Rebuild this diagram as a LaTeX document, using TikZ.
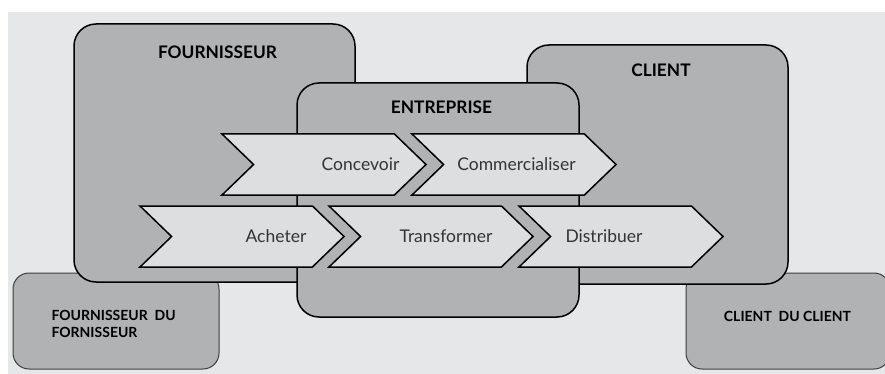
\documentclass[tikz,border=0pt]{standalone}
\usepackage{fontspec}
\setmainfont{Lato}
\usetikzlibrary{shapes.symbols}

\definecolor{bggray}{RGB}{230,231,232}
\definecolor{boxgray}{RGB}{177,178,180}
\definecolor{stagegray}{RGB}{221,222,224}
\definecolor{edgegray}{RGB}{60,60,60}

\tikzset{
  actor/.style={draw=black,fill=boxgray,line width=1.5pt,rounded corners=22pt},
  outer/.style={draw=edgegray,fill=boxgray,line width=1pt,rounded corners=16pt},
  stage/.style={shape=signal,signal from=west,signal to=east,
    signal pointer angle=88,draw=black,fill=stagegray,line width=1.5pt,
    minimum width=204pt,minimum height=61pt,inner sep=0pt,outer sep=0pt},
  title/.style={font=\bfseries\fontsize{17.3}{19}\selectfont},
  smalltitle/.style={font=\bfseries\fontsize{14}{17}\selectfont,align=left},
  stagetext/.style={font=\fontsize{17.5}{19}\selectfont,text=black!80}
}

\begin{document}
\begin{tikzpicture}[x=1pt,y=-1pt]
  \useasboundingbox (0,0) rectangle (885,374);
  \fill[bggray] (8,12) rectangle (885,374);

  % outer partners
  \draw[outer] (13,273) rectangle (219,369);
  \draw[outer] (686,273) rectangle (890,369);

  % main actors
  \draw[actor] (74,24) rectangle (355,282);
  \draw[actor] (527,45) rectangle (788,284);
  \draw[actor] (297,83) rectangle (579,317);

  \node[title] (fourn) at (217.5,52) {FOURNISSEUR};
  \node[title] (client) at (661,70) {CLIENT};
  \node[title] (entr) at (441.5,107) {ENTREPRISE};
  \node[smalltitle,anchor=west] (fournf) at (48,324)
    {FOURNISSEUR\ \ DU\\FORNISSEUR};
  \node[smalltitle] (clientc) at (787.5,316) {CLIENT\ \ DU CLIENT};

  % value chain
  \node[stage] (concevoir) at (324,164.5) {};
  \node[stage] (commerc) at (514,164.5) {};
  \node[stage] (acheter) at (242,236.5) {};
  \node[stage] (transf) at (431,236.5) {};
  \node[stage] (distrib) at (621,236.5) {};

  \node[stagetext] at (360.5,164.5) {Concevoir};
  \node[stagetext] at (516.5,164.5) {Commercialiser};
  \node[stagetext] at (276,236.5) {Acheter};
  \node[stagetext] at (446,236.5) {Transformer};
  \node[stagetext] at (604,236.5) {Distribuer};
\end{tikzpicture}
\end{document}
